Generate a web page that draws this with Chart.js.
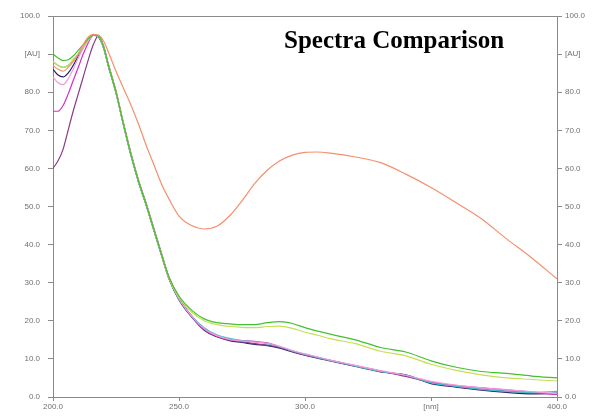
<!DOCTYPE html>
<html>
<head>
<meta charset="utf-8">
<script src="https://cdn.jsdelivr.net/npm/chart.js@4/dist/chart.umd.min.js"></script>
<style>
html,body{margin:0;padding:0;background:#fff;}
#wrap{width:600px;height:417px;position:relative;}
</style>
</head>
<body>
<div id="wrap"><canvas id="c" width="600" height="417"></canvas></div>
<script>
// ---- data ----
const wavelengths = [200,202,204,206,208,210,212,214,216,218,220,222,225,228,231,234,237,240,243,246,250,255,260,265,270,275,280,285,290,295,300,305,310,320,330,340,350,360,370,380,390,400];

const orange = [87,86,85.5,86.5,88,90,92.5,94.5,95.2,95,93.5,90.5,85.5,81,76.5,71.5,66,61,56,52,47.5,45,44.1,44.8,47.5,51.5,56,59.5,62,63.5,64.2,64.3,64,63,61.5,58.5,55,51,46.8,41.5,36.5,31];
const green = [90,89,88.3,88.5,89.5,91,92.5,94,95,94.8,92,87,80,71.5,63.5,56.5,50.5,44,37.5,31.5,26.5,22.8,20.5,19.5,19.2,19,19,19.5,19.8,19.3,18.2,17.3,16.5,15,13,11.8,9.5,7.8,6.7,6.2,5.5,5.0];
const yellowGreen = [88,87,86.5,87,88.5,90,92,93.8,95,94.7,92,87,80,71.5,63.5,56.5,50.5,44,37.5,31.3,26.2,22.3,20,19,18.5,18.3,18.2,18.5,18.6,18,17,16.2,15.3,14,12,10.8,8.6,7,5.8,5,4.6,4.2];
const pink = [84,82.5,82,83.5,86,89,91.5,93.5,95,94.8,92,87,80,71.5,63.5,56.5,50.5,44,37.5,31.3,25.8,21.2,17.9,16.1,15.1,14.7,14.4,14.1,13.3,12.2,11.3,10.5,9.7,8.3,6.9,5.7,4.1,3.1,2.4,1.9,1.4,0.9];
const cyan = [88,87,86.5,87,88.5,90,92,94,95,94.6,91.8,86.8,79.8,71.3,63.3,56.3,50.3,43.8,37.3,31.2,25.7,21.3,18.2,16.3,15.4,14.8,14.5,14,13.2,12.1,11.2,10.3,9.6,8.1,6.7,5.7,3.7,2.8,2,1.5,1.2,1.5];
const magenta = [75,75,76.5,79.5,83,86.5,90,93,95,94.8,92,87,80,71.5,63.5,56.5,50.5,44,37.5,31.3,25.8,21.2,17.8,16,15,14.8,14.6,14.2,13.2,12,11.2,10.4,9.6,8.2,6.8,5.6,4,3,2.4,1.9,1.3,0.6];
const purple = [60,62,65,70,75,79.5,84,88.5,92.5,94.8,92.3,87.3,80.3,71.8,63.8,56.8,50.8,44.3,37.8,31.5,26,21.3,17.8,15.9,15,14.5,14,13.6,13,12,11,10.3,9.6,8.2,6.8,5.4,3.8,2.8,2.0,1.5,1.0,0.8];
const navy = [86,84.5,84,85,87,89.5,92,94,95,94.5,91.8,86.8,79.8,71.3,63.3,56.3,50.3,43.8,37.3,31,25.5,21,17.5,15.8,14.8,14.3,13.8,13.5,12.8,11.8,11,10.2,9.5,8,6.6,5.8,3.5,2.6,1.8,1.2,0.8,1.0];

const xTicks = [200,250,300,350,400];
const yTicks = [0,10,20,30,40,50,60,70,80,90,100];
const xUnitLabel = '[nm]';
const yUnitLabel = '[AU]';
const titleText = 'Spectra Comparison';

const seriesList = [
  {name:'orange', values:orange, color:'#f3906e'},
  {name:'green', values:green, color:'#44c030'},
  {name:'yellowGreen', values:yellowGreen, color:'#c4e050'},
  {name:'pink', values:pink, color:'#f59ad8'},
  {name:'cyan', values:cyan, color:'#40c0c8'},
  {name:'magenta', values:magenta, color:'#d030c8'},
  {name:'purple', values:purple, color:'#8a3a8a'},
  {name:'navy', values:navy, color:'#22226a'}
];

const datasets = seriesList.map(s => ({
  label: s.name,
  data: wavelengths.map((w,i) => ({x:w, y:s.values[i]})),
  borderColor: s.color,
  borderWidth: 1.2,
  pointRadius: 0,
  fill: false,
  cubicInterpolationMode: 'monotone',
  yAxisID: 'y'
}));

const frameTitle = {
  id: 'frameTitle',
  afterDraw(chart) {
    const {ctx, chartArea:a} = chart;
    ctx.save();
    ctx.strokeStyle = '#8a8a8a';
    ctx.lineWidth = 1;
    ctx.beginPath();
    ctx.moveTo(a.left, a.top + 0.5);
    ctx.lineTo(a.right, a.top + 0.5);
    ctx.stroke();
    ctx.fillStyle = '#000';
    ctx.font = 'bold 25px "Liberation Serif", "Times New Roman", serif';
    ctx.textBaseline = 'alphabetic';
    ctx.textAlign = 'left';
    ctx.fillText(titleText, a.left + 231, a.top + 32);
    ctx.restore();
  }
};

const tickFont = {family:'"Liberation Sans", Arial, sans-serif', size: 8};
const tickColor = '#707070';
const fmtY = v => v === 90 ? yUnitLabel : Number(v).toFixed(1);

new Chart(document.getElementById('c'), {
  type: 'line',
  data: { datasets },
  plugins: [frameTitle],
  options: {
    responsive: false,
    animation: false,
    events: [],
    layout: { padding: { top: 16, left: 0, right: 0, bottom: 0 } },
    plugins: { legend: {display:false}, tooltip: {enabled:false}, title:{display:false} },
    scales: {
      x: {
        type: 'linear', min: 200, max: 400,
        afterBuildTicks: s => { s.ticks = xTicks.map(v => ({value:v})); },
        afterFit: s => { s.height = 20; },
        border: {display:true, color:'#8a8a8a', width:1},
        grid: {display:true, drawOnChartArea:false, drawTicks:true, tickLength:4, color:'#8a8a8a'},
        ticks: {font: tickFont, color: tickColor, padding: 1, maxRotation:0,
          callback: v => v === 350 ? xUnitLabel : Number(v).toFixed(1)}
      },
      y: {
        type: 'linear', position: 'left', min: 0, max: 100,
        afterBuildTicks: s => { s.ticks = yTicks.map(v => ({value:v})); },
        afterFit: s => { s.width = 53; },
        border: {display:true, color:'#8a8a8a', width:1},
        grid: {display:true, drawOnChartArea:false, drawTicks:true, tickLength:5, color:'#8a8a8a'},
        ticks: {font: tickFont, color: tickColor, padding: 8, callback: fmtY}
      },
      y2: {
        type: 'linear', position: 'right', min: 0, max: 100,
        afterBuildTicks: s => { s.ticks = yTicks.map(v => ({value:v})); },
        afterFit: s => { s.width = 43; },
        border: {display:true, color:'#8a8a8a', width:1},
        grid: {display:true, drawOnChartArea:false, drawTicks:true, tickLength:5, color:'#8a8a8a'},
        ticks: {font: tickFont, color: tickColor, padding: 3, callback: fmtY}
      }
    }
  }
});
</script>
</body>
</html>
